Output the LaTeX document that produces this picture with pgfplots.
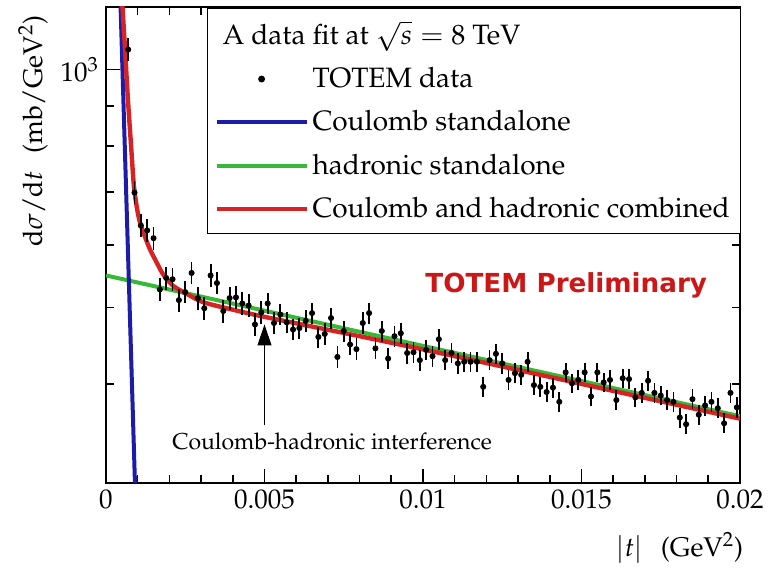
\documentclass[border=0pt]{standalone}
\usepackage{fontspec}
\newfontfamily\totemfont{DejaVu Sans}
\usepackage[T1]{fontenc}
\usepackage{mathpazo}
\usepackage{pgfplots}
\usepackage{pgfplotstable}
\pgfplotsset{compat=1.18}
\usetikzlibrary{arrows.meta}

\definecolor{cblue}{RGB}{28,28,168}
\definecolor{cgreen}{RGB}{55,185,55}
\definecolor{cred}{RGB}{215,35,35}
\definecolor{ttred}{RGB}{205,22,22}

\pgfplotsset{
  lineleg/.style={legend image code/.code={\draw[##1] (0pt,0pt) -- (45pt,0pt);}},
  dataleg/.style={legend image code/.code={\draw[mark repeat=2,mark phase=2,##1] plot coordinates {(0pt,0pt) (22.5pt,0pt) (45pt,0pt)};}},
}

\pgfplotstableread{
t y e
0.0007 1060 35
0.0009 699 23
0.0011 635 21
0.0013 626 21
0.0015 612 20
0.0017 527 17.5
0.0019 545 18
0.0021 543 18
0.0023 511 17
0.0025 523 17
0.0027 553 18
0.0029 514 17
0.0031 499 16.5
0.0033 549 18
0.0035 537 17.5
0.0037 495 16.5
0.0039 514 17
0.0041 515 17
0.0043 506 16.5
0.0045 503 16.5
0.0047 476 15.5
0.0049 493 16
0.0051 506 15.5
0.0053 478 15
0.0055 490 15
0.0057 479 15
0.0059 469 14.5
0.0061 471 14.5
0.0063 481 15
0.0065 492 15
0.0067 459 14
0.0069 463 14.5
0.0071 485 15
0.0073 433 13.5
0.0075 467 14.5
0.0077 449 14
0.0079 443 14
0.0081 478 15
0.0083 492 15
0.0085 444 14
0.0087 467 14.5
0.0089 431 13.5
0.0091 460 14
0.0093 464 14.5
0.0095 438 13.5
0.0097 439 13.5
0.0099 429 13
0.0101 442 13
0.0103 434 13
0.0105 456 13.5
0.0107 429 12.5
0.0109 438 13
0.0111 425 12.5
0.0113 427 12.5
0.0115 427 12.5
0.0117 427 12.5
0.0119 397 11.5
0.0121 429 12.5
0.0123 437 12.5
0.0125 425 12.5
0.0127 405 12
0.0129 413 12
0.0131 411 12
0.0133 427 12.5
0.0135 399 11.5
0.0137 397 11.5
0.0139 391 11.5
0.0141 396 11.5
0.0143 380 11
0.0145 414 12
0.0147 401 11.5
0.0149 405 12
0.0151 414 12
0.0153 386 11
0.0155 414 12
0.0157 402 11.5
0.0159 405 11.5
0.0161 382 11
0.0163 407 11.5
0.0165 406 11.5
0.0167 385 11
0.0169 390 11
0.0171 404 11.5
0.0173 390 11
0.0175 387 11
0.0177 382 11
0.0179 380 11
0.0181 363 10.5
0.0183 356 10.5
0.0185 383 11
0.0187 366 10.5
0.0189 376 11
0.0191 380 11
0.0193 373 11
0.0195 357 10.5
0.0197 390 11
0.0199 374 11
}\datatab

\pgfplotstableread{
t y
0.00044 1355
0.00052 1200
0.00060 1062
0.00069 919
0.00079 802
0.00088 713
0.00098 667
0.00107 641
0.00120 619
0.00139 592
0.00161 569
0.00180 551
0.00211 533
0.00256 520
0.00306 508
0.00390 498
0.00486 488
0.00612 476.5
0.00800 460
0.01054 438
0.01306 416.4
0.01653 388.1
0.02000 361.8
}\redtab

\pgfplotstableread{
t y
0.0000 549
0.0100 447.2
0.0200 364.4
}\greentab

\pgfplotstableread{
t y
0.0004 1442
0.0010 230
}\bluetab

\begin{document}
\begin{tikzpicture}
\useasboundingbox (0,0) rectangle (384pt,288.5pt);
\begin{axis}[
  at={(53pt,47pt)}, anchor=south west,
  scale only axis, width=317pt, height=238pt,
  xmin=0, xmax=0.02, ymode=log, ymin=300, ymax=1200,
  xtick={0,0.005,0.01,0.015,0.02},
  xticklabels={0,0.005,0.01,0.015,0.02},
  scaled x ticks=false,
  minor x tick num=4,
  ytick={1000}, yticklabels={$10^3$},
  minor ytick={300,400,500,600,700,800,900},
  tick align=inside,
  major tick length=7pt, minor tick length=4pt,
  every tick/.style={black, line width=0.8pt},
  axis line style={line width=1pt},
  tick label style={font=\fontsize{13.5}{16}\selectfont},
  every axis x label/.style={at={(rel axis cs:0.905,-0.1366)}, anchor=center, font=\fontsize{13.5}{16}\selectfont},
  every axis y label/.style={at={(rel axis cs:-0.1151,0.739)}, rotate=90, anchor=center, font=\fontsize{13.5}{16}\selectfont},
  xlabel={$|t|$\hspace{9pt}(GeV$^2$)},
  ylabel={$\mathrm{d}\sigma/\mathrm{d}t$\hspace{9pt}(mb/GeV$^2$)},
  lineleg,
  legend style={at={(rel axis cs:0.159,1)}, anchor=north west,
    draw=black, line width=0.8pt, fill=white,
    font=\fontsize{14}{16}\selectfont,
    inner xsep=3.5pt, inner ysep=4.5pt, row sep=6pt,
    cells={anchor=west}},
  clip=true,
]
\addlegendimage{empty legend}
\addlegendentry{\hspace{-45pt}A data fit at $\sqrt{s}=8$ TeV\rule[-5pt]{0pt}{1pt}}
\addlegendimage{only marks, mark=*, mark size=1.3pt, black, dataleg}
\addlegendentry{TOTEM data}
\addlegendimage{cblue, line width=2pt}
\addlegendentry{Coulomb standalone}
\addlegendimage{cgreen, line width=2pt}
\addlegendentry{hadronic standalone}
\addlegendimage{cred, line width=2pt}
\addlegendentry{Coulomb and hadronic combined}

\addplot[forget plot, cgreen, line width=2pt] table[x=t,y=y] {\greentab};
\addplot[forget plot, cblue, line width=2pt] table[x=t,y=y] {\bluetab};
\addplot[forget plot, cred, line width=2.2pt, smooth] table[x=t,y=y] {\redtab};
\addplot[forget plot, only marks, mark=*, mark size=1.3pt, black, mark options={fill=black},
  error bars/.cd, y dir=both, y explicit, error mark=none,
  error bar style={line width=0.9pt, black}]
  table[x=t, y=y, y error=e] {\datatab};

\node[text=ttred, font=\totemfont\bfseries\fontsize{13.1}{15}\selectfont] at (rel axis cs:0.726,0.416) {TOTEM Preliminary};
\node[font=\fontsize{11.5}{14}\selectfont] at (rel axis cs:0.3565,0.088) {Coulomb-hadronic interference};
\draw[line width=0.5pt, -{Triangle[length=10.5pt,width=7pt]}] (axis cs:0.005,355) -- (axis cs:0.005,476);
\end{axis}
\end{tikzpicture}
\end{document}
